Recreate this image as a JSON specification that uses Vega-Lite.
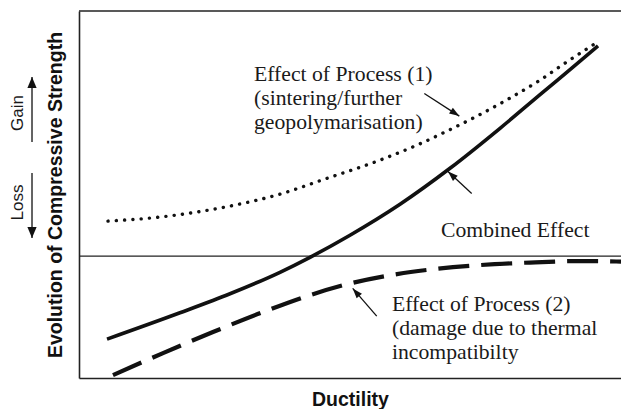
{
  "$schema": "https://vega.github.io/schema/vega-lite/v6.json",
  "width": 542,
  "height": 367,
  "autosize": "none",
  "padding": {"left": 79, "top": 11, "right": 0, "bottom": 31},
  "background": "white",
  "config": {"view": {"stroke": null}},
  "datasets": {
    "curves": [
      {"s": "p1", "x": 5.35, "y": 28.7}, {"s": "p1", "x": 14.94, "y": 32.0}, {"s": "p1", "x": 22.32, "y": 36.5},
      {"s": "p1", "x": 27.86, "y": 41.0}, {"s": "p1", "x": 37.08, "y": 50.8}, {"s": "p1", "x": 45.39, "y": 63.2},
      {"s": "p1", "x": 55.54, "y": 78.7}, {"s": "p1", "x": 62.36, "y": 91.0}, {"s": "p1", "x": 67.9, "y": 102.5},
      {"s": "p1", "x": 73.43, "y": 114.8}, {"s": "p1", "x": 79.52, "y": 129.6}, {"s": "p1", "x": 85.06, "y": 144.3},
      {"s": "p1", "x": 90.22, "y": 159.9}, {"s": "p1", "x": 95.39, "y": 174.7},
      {"s": "c", "x": 5.17, "y": -68.1}, {"s": "c", "x": 18.63, "y": -46.5}, {"s": "c", "x": 27.86, "y": -30.9},
      {"s": "c", "x": 37.08, "y": -13.3}, {"s": "c", "x": 42.62, "y": -1.0}, {"s": "c", "x": 50.0, "y": 17.1},
      {"s": "c", "x": 59.23, "y": 42.5}, {"s": "c", "x": 68.45, "y": 72.0}, {"s": "c", "x": 77.68, "y": 104.8},
      {"s": "c", "x": 85.06, "y": 132.4}, {"s": "c", "x": 90.59, "y": 153.0}, {"s": "c", "x": 95.76, "y": 172.3},
      {"s": "p2", "x": 6.27, "y": -97.6}, {"s": "p2", "x": 15.5, "y": -79.6}, {"s": "p2", "x": 24.72, "y": -62.3},
      {"s": "p2", "x": 33.95, "y": -45.9}, {"s": "p2", "x": 42.62, "y": -32.0}, {"s": "p2", "x": 50.37, "y": -22.1},
      {"s": "p2", "x": 58.67, "y": -14.8}, {"s": "p2", "x": 64.76, "y": -11.1}, {"s": "p2", "x": 73.99, "y": -7.4},
      {"s": "p2", "x": 83.21, "y": -5.3}, {"s": "p2", "x": 92.44, "y": -4.1}, {"s": "p2", "x": 100, "y": -4.5}
    ],
    "frame": [
      {"s": "zero", "x": 0, "y": 0}, {"s": "zero", "x": 100, "y": 0},
      {"s": "top", "x": 0, "y": 201}, {"s": "top", "x": 100, "y": 201}
    ],
    "notes": [
      {"label": "Effect of Process (1)", "x": 32.29, "y": 143.9},
      {"label": "(sintering/further", "x": 32.29, "y": 124.0},
      {"label": "geopolymarisation)", "x": 32.29, "y": 104.0},
      {"label": "Combined Effect", "x": 66.8, "y": 15.6},
      {"label": "Effect of Process (2)", "x": 57.75, "y": -44.9},
      {"label": "(damage due to thermal", "x": 57.75, "y": -64.8},
      {"label": "incompatibilty", "x": 57.75, "y": -84.7}
    ],
    "side": [
      {"label": "Gain", "x": -10.24, "y": 117.3},
      {"label": "Loss", "x": -10.24, "y": 43.9}
    ],
    "arrows": [
      {"id": "gain", "x": -8.67, "y": 146.8, "x2": -8.67, "y2": 93.5},
      {"id": "loss", "x": -8.67, "y": 14.8, "x2": -8.67, "y2": 68.1},
      {"id": "a1", "x": 70.17, "y": 114.8, "x2": 63.71, "y2": 133.4},
      {"id": "a2", "x": 68.08, "y": 69.3, "x2": 72.45, "y2": 51.4},
      {"id": "a3", "x": 50.5, "y": -26.5, "x2": 54.93, "y2": -49.2}
    ]
  },
  "encoding": {
    "x": {
      "field": "x", "type": "quantitative",
      "scale": {"domain": [0, 100], "nice": false, "zero": false},
      "axis": {
        "title": "Ductility", "domain": true, "domainColor": "#222", "domainWidth": 1.6,
        "ticks": false, "labels": false, "grid": false,
        "titleFont": "Liberation Sans", "titleFontSize": 19.5, "titleFontWeight": "bold",
        "titleColor": "#111", "titlePadding": 12
      }
    },
    "y": {
      "field": "y", "type": "quantitative",
      "scale": {"domain": [-100, 201], "nice": false, "zero": false},
      "axis": {
        "title": "Evolution of Compressive Strength", "domain": true, "domainColor": "#222", "domainWidth": 1.6,
        "ticks": false, "labels": false, "grid": false,
        "titleFont": "Liberation Sans", "titleFontSize": 19.5, "titleFontWeight": "bold",
        "titleColor": "#111", "titlePadding": 14
      }
    }
  },
  "layer": [
    {
      "data": {"name": "frame"},
      "transform": [{"filter": "datum.s === 'zero'"}],
      "mark": {"type": "line", "color": "#222", "strokeWidth": 1.3}
    },
    {
      "data": {"name": "frame"},
      "transform": [{"filter": "datum.s === 'top'"}],
      "mark": {"type": "line", "color": "#222", "strokeWidth": 1.6}
    },
    {
      "data": {"name": "curves"},
      "transform": [{"filter": "datum.s === 'p1'"}],
      "mark": {"type": "line", "color": "#111", "strokeWidth": 3.4, "strokeDash": [0.1, 8.2], "strokeCap": "round", "interpolate": "monotone"}
    },
    {
      "data": {"name": "curves"},
      "transform": [{"filter": "datum.s === 'c'"}],
      "mark": {"type": "line", "color": "#111", "strokeWidth": 3.6, "interpolate": "monotone"}
    },
    {
      "data": {"name": "curves"},
      "transform": [{"filter": "datum.s === 'p2'"}],
      "mark": {"type": "line", "color": "#111", "strokeWidth": 4.2, "strokeDash": [31, 12], "interpolate": "monotone", "clip": true}
    },
    {
      "data": {"name": "arrows"},
      "mark": {"type": "rule", "color": "#111", "strokeWidth": 1.3},
      "encoding": {"x2": {"field": "x2"}, "y2": {"field": "y2"}}
    },
    {
      "data": {"name": "arrows"},
      "transform": [{"filter": "datum.id === 'gain'"}],
      "mark": {"type": "point", "shape": "M0,0L0.42,1L-0.42,1Z", "size": 484, "filled": true, "opacity": 1, "color": "#111", "angle": 0}
    },
    {
      "data": {"name": "arrows"},
      "transform": [{"filter": "datum.id === 'loss'"}],
      "mark": {"type": "point", "shape": "M0,0L0.42,1L-0.42,1Z", "size": 484, "filled": true, "opacity": 1, "color": "#111", "angle": 180}
    },
    {
      "data": {"name": "arrows"},
      "transform": [{"filter": "datum.id === 'a1'"}],
      "mark": {"type": "point", "shape": "M0,0L0.35,1L-0.35,1Z", "size": 400, "filled": true, "opacity": 1, "color": "#111", "angle": 123}
    },
    {
      "data": {"name": "arrows"},
      "transform": [{"filter": "datum.id === 'a2'"}],
      "mark": {"type": "point", "shape": "M0,0L0.35,1L-0.35,1Z", "size": 400, "filled": true, "opacity": 1, "color": "#111", "angle": 312.6}
    },
    {
      "data": {"name": "arrows"},
      "transform": [{"filter": "datum.id === 'a3'"}],
      "mark": {"type": "point", "shape": "M0,0L0.35,1L-0.35,1Z", "size": 400, "filled": true, "opacity": 1, "color": "#111", "angle": 319}
    },
    {
      "data": {"name": "notes"},
      "mark": {"type": "text", "align": "left", "baseline": "alphabetic", "font": "Liberation Serif", "fontSize": 21.7, "color": "#1a1a1a"},
      "encoding": {"text": {"field": "label"}}
    },
    {
      "data": {"name": "side"},
      "mark": {"type": "text", "align": "center", "baseline": "alphabetic", "angle": 270, "font": "Liberation Sans", "fontSize": 17, "color": "#1a1a1a"},
      "encoding": {"text": {"field": "label"}}
    }
  ]
}
